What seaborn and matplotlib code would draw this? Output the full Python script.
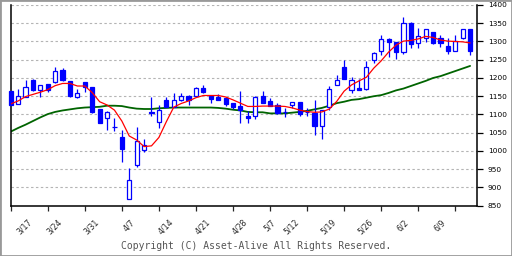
import matplotlib
matplotlib.use("Agg")
import matplotlib.pyplot as plt
import matplotlib.transforms as mtransforms
from matplotlib.patches import Rectangle
import numpy as np
import pandas as pd
import seaborn as sns

# ---------------- data ----------------
opens = [1164, 1130, 1149, 1195, 1168, 1183, 1188, 1222, 1192, 1149,
         1189, 1175, 1115, 1090, 1067, 1038, 869, 961, 1002, 1106,
         1080, 1139, 1121, 1139, 1151, 1151, 1172, 1151, 1149, 1146,
         1131, 1123, 1096, 1095, 1151, 1137, 1126, 1108, 1127, 1133,
         1108, 1105, 1069, 1120, 1182, 1231, 1167, 1172, 1169, 1249,
         1275, 1306, 1298, 1270, 1352, 1295, 1309, 1326, 1310, 1288,
         1275, 1309, 1334]
closes = [1127, 1150, 1175, 1167, 1180, 1167, 1219, 1195, 1151, 1158,
          1175, 1108, 1078, 1106, 1066, 1005, 920, 1027, 1015, 1105,
          1112, 1121, 1139, 1150, 1140, 1172, 1161, 1142, 1140, 1129,
          1121, 1112, 1091, 1148, 1132, 1124, 1103, 1107, 1133, 1100,
          1107, 1069, 1112, 1170, 1194, 1197, 1194, 1167, 1230, 1269,
          1306, 1298, 1270, 1352, 1292, 1315, 1333, 1295, 1295, 1275,
          1300, 1334, 1275]
highs = [1165, 1170, 1195, 1196, 1181, 1184, 1230, 1227, 1193, 1170,
         1190, 1176, 1116, 1110, 1090, 1057, 953, 1066, 1033, 1149,
         1126, 1149, 1158, 1158, 1152, 1176, 1181, 1152, 1155, 1147,
         1132, 1164, 1110, 1150, 1164, 1144, 1132, 1117, 1134, 1134,
         1117, 1140, 1113, 1178, 1208, 1249, 1203, 1197, 1247, 1271,
         1318, 1309, 1299, 1368, 1353, 1336, 1334, 1327, 1318, 1309,
         1318, 1335, 1335]
lows = [1126, 1129, 1148, 1163, 1149, 1162, 1187, 1192, 1148, 1146,
        1162, 1104, 1077, 1058, 1055, 971, 868, 955, 996, 1097,
        1062, 1120, 1120, 1138, 1127, 1150, 1160, 1132, 1139, 1123,
        1115, 1078, 1078, 1088, 1131, 1123, 1102, 1094, 1117, 1097,
        1097, 1044, 1033, 1112, 1181, 1196, 1160, 1166, 1168, 1240,
        1262, 1258, 1253, 1267, 1283, 1283, 1298, 1294, 1286, 1267,
        1274, 1308, 1263]
ma_short = [1129, 1137, 1149, 1155, 1161, 1168, 1179, 1185, 1185, 1178,
            1178, 1160, 1135, 1126, 1112, 1082, 1041, 1030, 1012, 1014,
            1037, 1080, 1120, 1130, 1137, 1146, 1152, 1152, 1152, 1148,
            1140, 1131, 1122, 1122, 1123, 1123, 1123, 1122, 1118, 1112,
            1108, 1106, 1107, 1115, 1136, 1164, 1181, 1192, 1202, 1227,
            1247, 1271, 1290, 1301, 1303, 1307, 1314, 1311, 1304, 1301,
            1300, 1299, 1296]
ma_long = [1053, 1063, 1072, 1082, 1092, 1101, 1107, 1111, 1114, 1117,
           1119, 1120, 1121, 1124, 1124, 1123, 1119, 1116, 1115, 1115,
           1117, 1118, 1119, 1119, 1119, 1119, 1119, 1119, 1118, 1116,
           1113, 1111, 1107, 1106, 1106, 1103, 1103, 1103, 1105, 1107,
           1110, 1114, 1118, 1124, 1131, 1135, 1140, 1142, 1146, 1150,
           1153, 1159, 1166, 1171, 1178, 1185, 1192, 1200, 1205, 1212,
           1219, 1226, 1233]
date_labels = ["3/17", "3/24", "3/31", "4/7", "4/14", "4/21", "4/28",
               "5/7", "5/12", "5/19", "5/26", "6/2", "6/9"]
label_index = [0, 4, 9, 14, 19, 24, 29, 33, 36, 41, 46, 51, 56]
y_ticks = list(range(850, 1401, 50))

# ---------------- figure ----------------
sns.set_style("white")
plt.rcParams['font.family'] = ['DejaVu Sans']

W, H = 512, 256
fig = plt.figure(figsize=(W / 100, H / 100), dpi=100)
fig.patch.set_facecolor("white")
x0, x1, ytop, ybot = 10.7, 477.0, 5.0, 205.7
ax = fig.add_axes([x0 / W, 1 - ybot / H, (x1 - x0) / W, (ybot - ytop) / H])
ax.set_facecolor("white")

n = len(opens)
idx = np.arange(n)
o = np.array(opens, float)
c = np.array(closes, float)
hi = np.array(highs, float)
lo = np.array(lows, float)

blue = "#0000ff"
df = pd.DataFrame({"i": idx, "short": ma_short, "long": ma_long})
sns.lineplot(data=df, x="i", y="long", ax=ax, color="#006400",
             linewidth=1.3, zorder=2)
# wicks
ax.vlines(idx, lo, hi, color=blue, linewidth=0.9, zorder=3, clip_on=False)
# bodies
bottom = np.minimum(o, c)
height = np.abs(c - o)
face = [blue if cc < oo else "white" for oo, cc in zip(o, c)]
ax.bar(idx, height, bottom=bottom, width=0.56, color=face,
       edgecolor=blue, linewidth=0.9, zorder=4, clip_on=False)
sns.lineplot(data=df, x="i", y="short", ax=ax, color="#ff0000",
             linewidth=0.9, zorder=5)

ax.set_xlim(0, (x1 - x0) / 7.41)
ax.set_ylim(850, 1400)
ax.set_xlabel("")
ax.set_ylabel("")

# grid
for yv in y_ticks:
    if yv > 850:
        ax.axhline(yv, color="#b4b4b4", linewidth=0.8,
                   linestyle=(0, (2.2, 2.2)), zorder=1)

# spines
ax.spines["top"].set_visible(False)
for s in ["left", "right", "bottom"]:
    ax.spines[s].set_visible(True)
    ax.spines[s].set_color("black")
    ax.spines[s].set_linewidth(1.1)

# y axis on the right
ax.yaxis.tick_right()
ax.set_yticks(y_ticks)
ax.set_yticklabels([str(v) for v in y_ticks])
ax.tick_params(axis="y", which="major", direction="out", length=4.2,
               width=0.9, pad=3.5, labelsize=5.3, colors="black",
               left=False, right=True, labelleft=False, labelright=True)

# x ticks: uniform tick marks, labels at date positions
ax.xaxis.remove_overlapping_locs = False
ax.set_xticks(list(range(0, 61, 5)))
ax.set_xticklabels([])
ax.tick_params(axis="x", which="major", direction="out", length=3.6,
               width=0.9, bottom=True)
ax.set_xticks(label_index, minor=True)
ax.set_xticklabels(date_labels, minor=True, rotation=45, ha="center",
                   va="top", fontsize=5.6)
ax.tick_params(axis="x", which="minor", length=0, pad=8.5)
offset = mtransforms.ScaledTranslation(14 / 100, 0, fig.dpi_scale_trans)
for lab in ax.get_xticklabels(minor=True):
    lab.set_transform(lab.get_transform() + offset)

fig.text(0.5, 1 - 246 / H, "Copyright (C) Asset-Alive All Rights Reserved.",
         ha="center", va="center", family="DejaVu Sans Mono",
         fontsize=7, color="#555555")

fig.patches.append(Rectangle((0, 0), 1, 1, transform=fig.transFigure,
                             fill=False, edgecolor="#999999", linewidth=2.0))

fig.savefig("out.png", dpi=100, facecolor="white")
